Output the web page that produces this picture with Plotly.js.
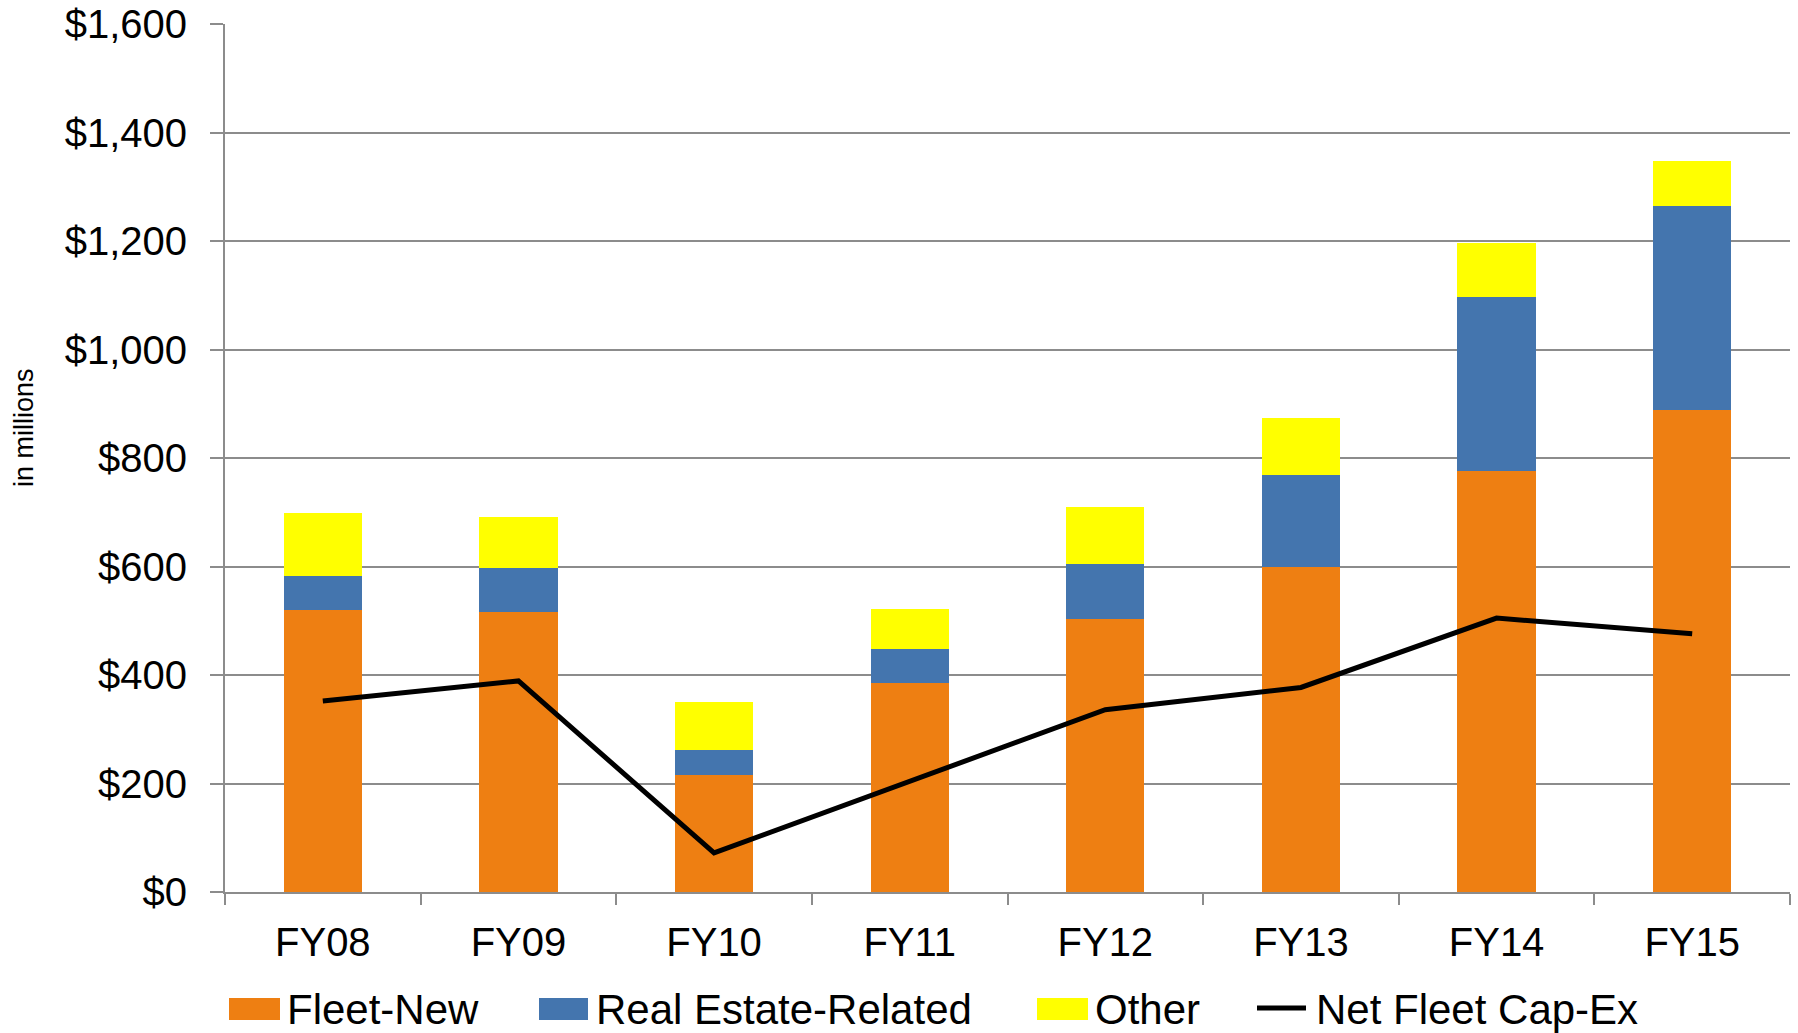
<!DOCTYPE html>
<html>
<head>
<meta charset="utf-8">
<script src="https://cdn.plot.ly/plotly-3.0.1.min.js"></script>
<style>html,body{margin:0;padding:0;background:#fff;}#chart{width:1798px;height:1033px;}</style>
</head>
<body>
<div id="chart"></div>
<script>
// ---- data ----
var categories = ["FY08","FY09","FY10","FY11","FY12","FY13","FY14","FY15"];
var fleetNew = [519, 516, 215, 385, 503, 599, 776, 888];
var realEstate = [64, 81, 46, 63, 102, 169, 321, 376];
var other = [116, 95, 89, 74, 105, 106, 99, 84];
var netFleetCapEx = [352, 389, 72, 205, 336, 377, 505, 476];
var seriesNames = ["Fleet-New", "Real Estate-Related", "Other", "Net Fleet Cap-Ex"];
var yTickVals = [0, 200, 400, 600, 800, 1000, 1200, 1400, 1600];
var yTickText = ["$0", "$200", "$400", "$600", "$800", "$1,000", "$1,200", "$1,400", "$1,600"];

// ---- styles ----
var colors = ["#EE7F12", "#4475AE", "#FFFF00", "#000000"];
var FONT = "Liberation Sans, Arial, sans-serif";
var gridColor = "#8C8C8C";

var W = 1798, H = 1033;
var M = {l: 225, r: 8, t: 24, b: 141};
var pw = W - M.l - M.r, ph = H - M.t - M.b;
function px(x){ return (x - M.l) / pw; }
function py(y){ return (H - M.b - y) / ph; }

var traces = [
  {type: "bar", x: categories, y: fleetNew, name: seriesNames[0], marker: {color: colors[0]}, hoverinfo: "skip"},
  {type: "bar", x: categories, y: realEstate, name: seriesNames[1], marker: {color: colors[1]}, hoverinfo: "skip"},
  {type: "bar", x: categories, y: other, name: seriesNames[2], marker: {color: colors[2]}, hoverinfo: "skip"},
  {type: "scatter", mode: "lines", x: categories, y: netFleetCapEx, name: seriesNames[3],
   line: {color: colors[3], width: 5}, hoverinfo: "skip"}
];

// custom legend (styling only)
var legendItems = [
  {kind: "box", x0: 229, x1: 280, tx: 286},
  {kind: "box", x0: 539, x1: 588, tx: 595},
  {kind: "box", x0: 1037, x1: 1088, tx: 1094},
  {kind: "line", x0: 1257, x1: 1306, tx: 1315}
];
var shapes = [], annotations = [];
legendItems.forEach(function(it, i){
  if (it.kind === "box") {
    shapes.push({type: "rect", xref: "paper", yref: "paper", x0: px(it.x0), x1: px(it.x1),
      y0: py(998), y1: py(1020), fillcolor: colors[i], line: {width: 0}});
  } else {
    shapes.push({type: "line", xref: "paper", yref: "paper", x0: px(it.x0), x1: px(it.x1),
      y0: py(1008), y1: py(1008), line: {color: colors[i], width: 5}});
  }
  annotations.push({xref: "paper", yref: "paper", x: px(it.tx), y: py(1010), xanchor: "left", yanchor: "middle",
    text: seriesNames[i], showarrow: false, borderpad: 0, font: {family: FONT, size: 42, color: "#000"}});
});
annotations.push({xref: "paper", yref: "paper", x: px(24), y: py(428), xanchor: "center", yanchor: "middle",
  text: "in millions", textangle: -90, showarrow: false, font: {family: FONT, size: 27, color: "#000"}});

var layout = {
  width: W, height: H,
  margin: M,
  paper_bgcolor: "#fff", plot_bgcolor: "#fff",
  barmode: "stack", bargap: 0.6,
  showlegend: false,
  font: {family: FONT, color: "#000"},
  xaxis: {
    type: "category", range: [-0.5, 7.5],
    showgrid: false, showline: true, linecolor: gridColor, linewidth: 2,
    ticks: "outside", tickson: "boundaries", ticklen: 11, tickwidth: 2, tickcolor: gridColor,
    tickfont: {family: FONT, size: 40, color: "#000"}, ticklabelstandoff: 14
  },
  yaxis: {
    range: [0, 1600], tickvals: yTickVals, ticktext: yTickText,
    showgrid: true, gridcolor: gridColor, gridwidth: 2, zeroline: false,
    showline: true, linecolor: gridColor, linewidth: 2,
    ticks: "outside", ticklen: 13, tickwidth: 2, tickcolor: gridColor,
    tickfont: {family: FONT, size: 40, color: "#000"}, ticklabelstandoff: 15
  },
  shapes: shapes,
  annotations: annotations
};

Plotly.newPlot("chart", traces, layout, {staticPlot: true, displayModeBar: false});
</script>
</body>
</html>
